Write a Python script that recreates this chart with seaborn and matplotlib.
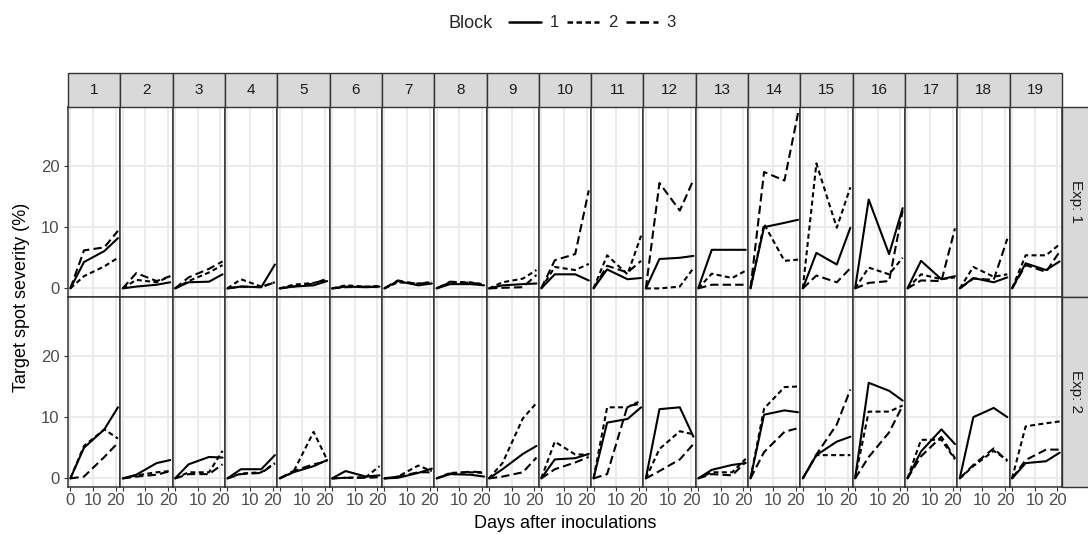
import matplotlib
matplotlib.use("Agg")
import matplotlib.pyplot as plt
from matplotlib.patches import Rectangle
from matplotlib.lines import Line2D
import numpy as np
import pandas as pd
import seaborn as sns

# Assessment days and facet levels
days = [0, 6, 15, 21]
plots = [str(i) for i in range(1, 20)]
experiments = ["Exp: 1", "Exp: 2"]
blocks = ["1", "2", "3"]

# Severity (%) per plot, one row of four assessments per plot
exp1_block1 = [[0, 4.3, 6.1, 8.2], [0, 0.3, 0.6, 1.0], [0, 1.0, 1.1, 2.3], [0, 0.3, 0.2, 3.9],
               [0, 0.3, 0.5, 1.2], [0, 0.3, 0.2, 0.3], [0, 1.2, 0.5, 0.8], [0, 0.7, 0.7, 0.5],
               [0, 0.5, 0.7, 0.8], [0, 2.3, 2.3, 1.3], [0, 3.1, 1.5, 1.7], [0, 4.8, 5.0, 5.3],
               [0, 6.3, 6.3, 6.3], [0, 10.0, 10.7, 11.2], [0, 5.8, 3.9, 9.9], [0, 14.5, 5.6, 13.1],
               [0, 4.5, 1.5, 2.0], [0, 1.7, 1.0, 1.8], [0, 4.1, 3.0, 4.4]]
exp1_block2 = [[0, 2.0, 3.6, 5.0], [0, 1.4, 1.0, 2.0], [0, 1.2, 2.6, 3.8], [0, 1.5, 0.3, 1.0],
               [0, 0.6, 0.9, 1.3], [0, 0.5, 0.3, 0.4], [0, 1.0, 0.8, 1.0], [0, 1.0, 1.0, 0.6],
               [0, 1.0, 1.6, 3.0], [0, 3.5, 3.0, 4.0], [0, 5.4, 2.3, 8.6], [0, 0.0, 0.3, 3.3],
               [0, 2.4, 1.7, 2.9], [0, 10.5, 4.5, 4.7], [0, 20.4, 9.9, 16.5], [0, 3.4, 2.3, 5.0],
               [0, 2.3, 1.5, 1.8], [0, 3.5, 1.9, 2.3], [0, 5.4, 5.4, 7.2]]
exp1_block3 = [[0, 6.2, 6.7, 9.4], [0, 2.5, 1.2, 2.0], [0, 1.8, 3.2, 4.4], [0, 0.3, 0.2, 1.0],
               [0, 0.3, 0.8, 1.6], [0, 0.2, 0.3, 0.2], [0, 1.3, 0.7, 1.1], [0, 1.1, 0.9, 0.7],
               [0, 0.1, 0.2, 2.2], [0, 4.6, 5.6, 16.0], [0, 3.7, 2.6, 4.5], [0, 17.2, 12.7, 17.7],
               [0, 0.6, 0.6, 0.6], [0, 19.0, 17.6, 28.6], [0, 2.1, 1.0, 3.3], [0, 0.9, 1.2, 12.7],
               [0, 1.3, 1.2, 9.8], [0, 1.6, 1.4, 8.1], [0, 3.8, 2.7, 6.0]]
exp2_block1 = [[0, 5.0, 8.0, 11.6], [0, 0.6, 2.5, 3.0], [0, 2.3, 3.5, 3.4], [0, 1.5, 1.5, 3.8],
               [0, 1.0, 2.0, 3.0], [0, 1.2, 0.3, 0.5], [0, 0.1, 0.9, 1.6], [0, 0.7, 0.6, 0.3],
               [0, 1.5, 4.0, 5.3], [0, 3.1, 3.3, 4.0], [0, 9.1, 9.7, 11.6], [0, 11.3, 11.6, 6.8],
               [0, 1.4, 2.2, 2.5], [0, 10.4, 11.1, 10.8], [0, 3.8, 6.0, 6.8], [0, 15.6, 14.3, 12.7],
               [0, 4.4, 8.0, 5.6], [0, 10.0, 11.5, 10.0], [0, 2.5, 2.8, 4.2]]
exp2_block2 = [[0, 5.3, 8.0, 6.5], [0, 0.5, 1.0, 1.2], [0, 1.0, 1.0, 4.5], [0, 0.8, 1.0, 2.5],
               [0, 1.0, 7.6, 3.0], [0, 0.1, 0.2, 2.0], [0, 0.3, 2.1, 1.2], [0, 0.9, 1.0, 0.9],
               [0, 2.5, 9.8, 12.3], [0, 6.0, 3.9, 3.9], [0, 11.6, 11.6, 12.7], [0, 4.8, 7.7, 7.2],
               [0, 1.0, 1.0, 3.2], [0, 11.4, 14.9, 15.0], [0, 3.8, 3.8, 3.8], [0, 10.9, 10.9, 11.9],
               [0, 6.3, 6.3, 3.1], [0, 2.0, 4.5, 3.0], [0, 8.5, 9.0, 9.3]]
exp2_block3 = [[0, 0.3, 3.5, 5.8], [0, 0.3, 0.6, 1.2], [0, 0.7, 0.7, 2.3], [0, 0.7, 0.9, 2.4],
               [0, 1.2, 2.3, 2.8], [0, 0.1, 0.1, 0.2], [0, 0.3, 1.0, 1.0], [0, 0.8, 1.1, 1.0],
               [0, 0.3, 1.0, 3.4], [0, 1.5, 2.6, 3.5], [0, 0.7, 11.8, 12.2], [0, 1.2, 3.1, 5.6],
               [0, 0.7, 0.5, 2.7], [0, 4.3, 7.6, 8.2], [0, 3.9, 8.8, 14.5], [0, 3.5, 7.5, 11.9],
               [0, 3.6, 6.8, 3.3], [0, 2.2, 4.9, 2.8], [0, 3.0, 4.7, 4.7]]

x_ticks = [0, 10, 20]
y_ticks = [0, 10, 20]

series = {
    ("Exp: 1", "1"): exp1_block1, ("Exp: 1", "2"): exp1_block2, ("Exp: 1", "3"): exp1_block3,
    ("Exp: 2", "1"): exp2_block1, ("Exp: 2", "2"): exp2_block2, ("Exp: 2", "3"): exp2_block3,
}
rows = []
for (exp, blk), vals in series.items():
    for p, plot_vals in zip(plots, vals):
        for d, v in zip(days, plot_vals):
            rows.append({"Exp": exp, "Plot": p, "Block": blk, "Day": d, "Severity": v})
df = pd.DataFrame(rows)

sns.set_theme(style="white")
plt.rcParams["font.family"] = ["Liberation Sans", "DejaVu Sans"]

W, H = 1088, 534
fig, axes = plt.subplots(2, 19, figsize=(W / 100, H / 100), dpi=100)
left, right, top, bottom = 68, 1062, 107, 487
fig.subplots_adjust(left=left / W, right=right / W, top=1 - top / H, bottom=1 - bottom / H,
                    wspace=0, hspace=0)

line_dashes = {"1": "", "2": (2.4, 1.6), "3": (4.0, 2.0)}
border = "#333333"
grid_c = "#EBEBEB"

for r, exp in enumerate(experiments):
    for c, p in enumerate(plots):
        ax = axes[r, c]
        sub = df[(df["Exp"] == exp) & (df["Plot"] == p)]
        sns.lineplot(data=sub, x="Day", y="Severity", style="Block", style_order=blocks,
                     dashes=line_dashes, color="black", linewidth=1.5, errorbar=None,
                     legend=False, ax=ax)
        ax.set_xlim(-1.05, 22.05)
        ax.set_ylim(-1.4, 29.6)
        ax.set_xticks(x_ticks)
        ax.set_yticks(y_ticks)
        ax.grid(True, color=grid_c, linewidth=1.4)
        ax.set_axisbelow(True)
        for s in ax.spines.values():
            s.set_color(border)
            s.set_linewidth(1.1)
        ax.set_xlabel("")
        ax.set_ylabel("")
        ax.tick_params(axis="both", which="both", length=3, width=0.8, color=border,
                       labelsize=12, labelcolor="#4D4D4D", pad=1.5)
        ax.tick_params(axis="y", left=(c == 0), labelleft=(c == 0), pad=3)
        ax.tick_params(axis="x", bottom=(r == 1), labelbottom=(r == 1))
        if r == 1:
            ax.set_xticklabels(["0" if c == 0 else "", "10", "20"])
        else:
            ax.set_xticklabels([])
        if c != 0:
            ax.set_yticklabels([])

# Facet strips: plot numbers on top, experiments on the right
strip_fill = "#D9D9D9"
strip_top = 73
for c, p in enumerate(plots):
    bb = axes[0, c].get_position()
    y0 = 1 - top / H
    h = (top - strip_top) / H
    fig.add_artist(Rectangle((bb.x0, y0), bb.width, h, transform=fig.transFigure,
                             facecolor=strip_fill, edgecolor=border, linewidth=1.0))
    fig.text(bb.x0 + bb.width / 2, y0 + h / 2, p, ha="center", va="center",
             fontsize=11, color="#1A1A1A")
for r, exp in enumerate(experiments):
    bb = axes[r, -1].get_position()
    x0 = bb.x1
    w = (1088 - right + 4) / W
    fig.add_artist(Rectangle((x0, bb.y0), w, bb.height, transform=fig.transFigure,
                             facecolor=strip_fill, edgecolor=border, linewidth=1.0))
    fig.text(x0 + 14 / W, bb.y0 + bb.height / 2, exp, ha="center", va="center",
             rotation=-90, fontsize=11, color="#1A1A1A")

fig.text((left + right) / 2 / W, 1 - 524 / H, "Days after inoculations", ha="center",
         va="center", fontsize=13, color="black")
fig.text(22 / W, 1 - 297 / H, "Target spot severity (%)", ha="center", va="center",
         rotation=90, fontsize=13, color="black")

# Legend across the top
fig.text(471 / W, 1 - 23 / H, "Block", ha="center", va="center", fontsize=13)
handles = [Line2D([], [], color="black", linewidth=1.8, linestyle="-"),
           Line2D([], [], color="black", linewidth=1.8, dashes=(2.2, 1.4)),
           Line2D([], [], color="black", linewidth=1.8, dashes=(3.6, 1.8))]
fig.legend(handles, blocks, ncol=3, loc="center left", bbox_to_anchor=(494 / W, 1 - 23 / H),
           frameon=False, fontsize=12, handlelength=1.9, handletextpad=0.55,
           columnspacing=0.5)

fig.savefig("out.png", dpi=100)
